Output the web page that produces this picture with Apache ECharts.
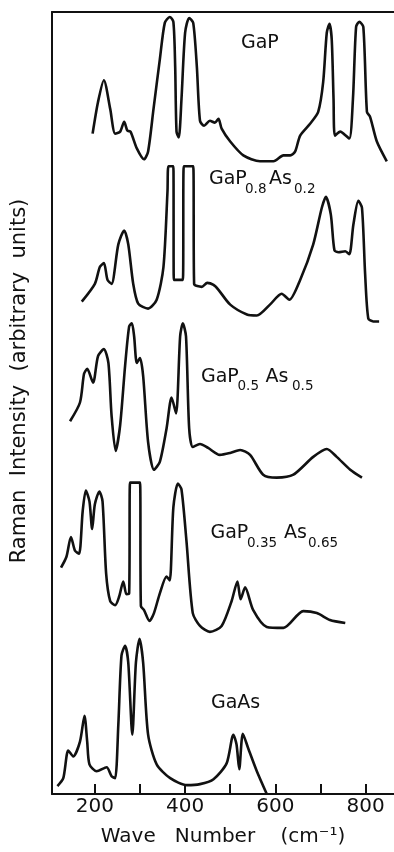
<!DOCTYPE html>
<html>
<head>
<meta charset="utf-8">
<title>Raman spectra GaP(1-x)As(x)</title>
<script src="https://cdn.jsdelivr.net/npm/echarts@6.0.0/dist/echarts.min.js"></script>
<style>
  html, body { margin: 0; padding: 0; background: #fff; }
  #chart { width: 394px; height: 852px; }
</style>
</head>
<body>
<div id="chart"></div>
<script>
// wave number (cm-1), intensity (arbitrary, spectra stacked with offsets)
const gaP = [
  [195, 668], [207, 700], [220, 722], [234, 693], [245, 668], [256, 670], [265, 680], [272, 671],
  [279, 670], [293, 653], [309, 642], [318, 650], [330, 693], [344, 743], [355, 780], [366, 786],
  [374, 781], [378, 736], [381, 670], [386, 664], [392, 703], [400, 770], [409, 785], [418, 780],
  [426, 736], [433, 681], [442, 676], [455, 681], [466, 679], [474, 683], [481, 673], [500, 660],
  [529, 646], [566, 640], [596, 640], [618, 646], [633, 646], [644, 650], [655, 666], [677, 678],
  [695, 690], [706, 720], [714, 770], [720, 779], [725, 763], [729, 703], [732, 666], [744, 670],
  [751, 668], [764, 663], [772, 703], [779, 776], [786, 781], [795, 776], [803, 690], [810, 685],
  [825, 660], [847, 640]
]
const gaP08As02 = [
  [171, 498], [200, 516], [211, 533], [220, 537], [228, 520], [237, 516], [252, 556], [265, 570],
  [274, 556], [285, 516], [296, 496], [318, 491], [337, 500], [352, 533], [361, 610], [363, 635],
  [374, 635], [375, 520], [395, 520], [397, 635], [418, 635], [420, 516], [437, 513], [449, 517],
  [463, 515], [474, 510], [500, 495], [537, 485], [559, 484], [588, 495], [614, 506], [631, 500],
  [655, 520], [684, 556], [703, 593], [712, 604], [723, 586], [731, 550], [740, 548], [755, 549],
  [764, 546], [773, 576], [784, 600], [792, 593], [799, 526], [806, 481], [817, 478], [830, 478]
]
const gaP05As05 = [
  [145, 377], [167, 396], [176, 425], [183, 430], [196, 416], [207, 443], [220, 450], [230, 436],
  [237, 383], [246, 347], [256, 373], [267, 433], [276, 473], [282, 476], [287, 463], [293, 436],
  [300, 441], [307, 423], [318, 356], [331, 328], [344, 336], [359, 370], [370, 401], [380, 385],
  [389, 463], [395, 476], [402, 463], [409, 370], [417, 351], [433, 354], [451, 350], [477, 343],
  [500, 345], [522, 348], [544, 343], [573, 323], [603, 320], [640, 323], [684, 341], [714, 349],
  [736, 341], [766, 328], [792, 320]
]
const gaP035As065 = [
  [125, 229], [137, 240], [147, 260], [156, 246], [165, 243], [173, 286], [180, 307], [188, 296],
  [194, 268], [200, 293], [210, 306], [217, 296], [225, 223], [234, 195], [245, 191], [254, 200],
  [263, 215], [270, 202], [276, 203], [278, 315], [300, 315], [302, 190], [309, 186], [321, 175],
  [331, 183], [344, 203], [359, 220], [366, 216], [374, 290], [384, 314], [392, 308], [403, 256],
  [417, 183], [433, 170], [455, 164], [481, 170], [503, 195], [516, 215], [523, 197], [533, 209],
  [551, 186], [581, 169], [618, 168], [662, 185], [692, 183], [721, 176], [755, 173]
]
const gaAs = [
  [117, 8], [130, 16], [141, 44], [152, 38], [167, 53], [177, 79], [183, 53], [188, 30],
  [204, 23], [226, 27], [237, 18], [245, 16], [252, 70], [259, 140], [267, 150], [274, 133],
  [283, 60], [291, 133], [299, 157], [307, 133], [318, 60], [337, 30], [367, 16], [404, 9],
  [433, 10], [463, 15], [492, 31], [507, 60], [514, 50], [520, 25], [528, 61], [540, 46],
  [559, 23], [581, 0]
]

const tickValues = [200, 300, 400, 500, 600, 700, 800]
const labelValues = [200, 400, 600, 800]

const ink = "#111"
const font = "DejaVu Sans"

const chart = echarts.init(document.getElementById("chart"), null, { renderer: "canvas" })

// one composition label: pieces = [[text, x, isSub], ...]
const formula = (pieces, yMain, ySub) =>
  pieces.map(([text, x, sub]) => ({
    type: "text",
    left: x,
    top: sub ? ySub - 7 : yMain - 9,
    style: {
      text,
      fill: ink,
      font: `${sub ? 13.5 : 19}px "${font}"`,
    },
  }))

const spectrum = (name, data) => ({
  name,
  type: "line",
  data,
  showSymbol: false,
  smooth: 0.25,
  lineStyle: { color: ink, width: 2.6 },
  silent: true,
})

chart.setOption({
  animation: false,
  backgroundColor: "#fff",
  grid: { left: 52, right: 0, top: 12, bottom: 49 },
  xAxis: [
    {
      type: "value",
      position: "bottom",
      min: 105,
      max: 863,
      axisLine: { show: true, lineStyle: { color: ink, width: 2 } },
      axisTick: { show: true, inside: true, length: 10, customValues: tickValues, lineStyle: { color: ink, width: 2 } },
      axisLabel: { customValues: labelValues, color: ink, fontSize: 20, fontFamily: font, margin: 3 },
      splitLine: { show: false },
      name: "Wave   Number    (cm\u207B\u00B9)",
      nameLocation: "middle",
      nameGap: 33,
      nameTextStyle: { color: ink, fontSize: 20, fontFamily: font },
    },
    {
      type: "value",
      position: "top",
      min: 105,
      max: 863,
      axisLine: { show: true, lineStyle: { color: ink, width: 2 } },
      axisTick: { show: false },
      axisLabel: { show: false },
      splitLine: { show: false },
    },
  ],
  yAxis: {
    type: "value",
    min: 0,
    max: 791,
    axisLine: { show: true, lineStyle: { color: ink, width: 2 } },
    axisTick: { show: false },
    axisLabel: { show: false },
    splitLine: { show: false },
  },
  graphic: [
    {
      type: "text",
      x: 20,
      y: 381,
      rotation: Math.PI / 2,
      style: {
        text: "Raman  Intensity  (arbitrary  units)",
        fill: ink,
        font: `21px "${font}"`,
        align: "center",
        verticalAlign: "middle",
      },
    },
    ...formula([["GaP", 241, false]], 43, 0),
    ...formula([["GaP", 209, false], ["0.8", 245, true], ["As", 269, false], ["0.2", 294, true]], 179, 189),
    ...formula([["GaP", 201, false], ["0.5", 237.5, true], ["As", 265.5, false], ["0.5", 292, true]], 377, 386),
    ...formula([["GaP", 210.5, false], ["0.35", 247, true], ["As", 284, false], ["0.65", 308, true]], 533, 543),
    ...formula([["GaAs", 211, false]], 703, 0),
  ],
  series: [
    spectrum("GaP", gaP),
    spectrum("GaP0.8As0.2", gaP08As02),
    spectrum("GaP0.5As0.5", gaP05As05),
    spectrum("GaP0.35As0.65", gaP035As065),
    spectrum("GaAs", gaAs),
  ],
})
</script>
</body>
</html>
